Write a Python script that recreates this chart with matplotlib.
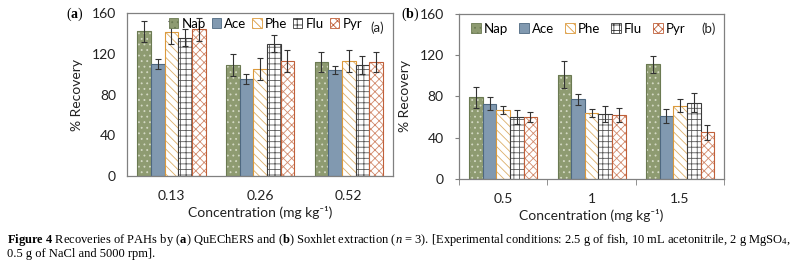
import numpy as np
import matplotlib
matplotlib.use("Agg")
from matplotlib import pyplot as plt
from matplotlib.patches import Patch

plt.rcParams['font.family'] = ['Lato', 'DejaVu Sans']
plt.rcParams['hatch.linewidth'] = 0.6
plt.rcParams['mathtext.fontset'] = 'custom'
plt.rcParams['mathtext.rm'] = 'Liberation Serif'
plt.rcParams['mathtext.it'] = 'Liberation Serif:italic'
plt.rcParams['mathtext.bf'] = 'Liberation Serif:bold'

pahs = ["Nap", "Ace", "Phe", "Flu", "Pyr"]

conc_a = ["0.13", "0.26", "0.52"]
nap_a = [142, 109, 112]
ace_a = [110, 95, 104]
phe_a = [141, 105, 113]
flu_a = [136, 130, 109]
pyr_a = [144, 113, 112]
nap_a_err = [10, 11, 10]
ace_a_err = [5, 5, 4]
phe_a_err = [11, 11, 11]
flu_a_err = [8, 8, 9]
pyr_a_err = [11, 11, 10]

conc_b = ["0.5", "1", "1.5"]
nap_b = [79, 101, 111]
ace_b = [73, 77, 61]
phe_b = [67, 64, 71]
flu_b = [60, 63, 74]
pyr_b = [60, 62, 45]
nap_b_err = [10, 13, 8]
ace_b_err = [6, 5, 7]
phe_b_err = [4, 4, 6]
flu_b_err = [7, 8, 9]
pyr_b_err = [5, 7, 7]

# fill, hatch, hatch colour, outline
styles = [
    ("#8e9b71", "...", "#d4d9c4", "#6b7a52"),
    ("#8199b0", "", "#8199b0", "#4e6880"),
    ("#ffffff", "\\\\\\\\", "#dcae68", "#dc9a3c"),
    ("#ffffff", "+++", "#5a5a5a", "#3a3a3a"),
    ("#ffffff", "xxxx", "#d28a6c", "#c0603a"),
]


def panel(ax, cats, series, errs, ticks):
    x = np.arange(len(cats))
    w = 0.154
    for i, (vals, err) in enumerate(zip(series, errs)):
        fc, hatch, hc, ec = styles[i]
        pos = x + (i - 2) * w
        ax.bar(pos, vals, w, color=fc, edgecolor=hc, hatch=hatch, linewidth=0)
        ax.bar(pos, vals, w, fill=False, edgecolor=ec, linewidth=0.8)
        ax.errorbar(pos, vals, yerr=err, fmt="none", ecolor="#333333",
                    elinewidth=0.8, capsize=2.5, capthick=0.8)
    ax.set_xlim(-0.5, len(cats) - 0.5)
    ax.set_ylim(0, 160)
    ax.set_yticks([0, 40, 80, 120, 160])
    ax.set_xticks(x)
    ax.set_xticklabels(cats)
    ax.tick_params(axis="x", length=0, labelsize=10, pad=10, colors="#222222")
    ax.tick_params(axis="y", length=ticks, labelsize=10, pad=8, colors="#222222",
                   color="#808080")
    for s in ax.spines.values():
        s.set_color("#808080")
        s.set_linewidth(0.9)
    ax.set_xlabel("Concentration (mg kg\u207b\u00b9)", fontsize=10, color="#222222", labelpad=3)
    ax.set_ylabel("% Recovery", fontsize=10, color="#222222", labelpad=6)
    if ticks:
        ax.set_xticks(np.arange(len(cats) + 1) - 0.5, minor=True)
        ax.tick_params(axis="x", which="minor", length=4, color="#808080")


fig = plt.figure(figsize=(7.99, 2.67), dpi=100)
ax1 = fig.add_axes([0.159, 0.341, 0.333, 0.610])
ax2 = fig.add_axes([0.5745, 0.330, 0.332, 0.618])

panel(ax1, conc_a, [nap_a, ace_a, phe_a, flu_a, pyr_a],
      [nap_a_err, ace_a_err, phe_a_err, flu_a_err, pyr_a_err], 0)
panel(ax2, conc_b, [nap_b, ace_b, phe_b, flu_b, pyr_b],
      [nap_b_err, ace_b_err, phe_b_err, flu_b_err, pyr_b_err], 3)

handles = [Patch(facecolor=s[0], edgecolor=s[3], hatch=s[1], linewidth=0.6) for s in styles]
for ax, anchor, tag, tpos, cs in [(ax1, (0.52, 0.935), "(a)", (0.94, 0.91), 0.45),
                                  (ax2, (0.45, 0.91), "(b)", (0.94, 0.91), 0.85)]:
    ax.legend(handles, pahs, loc="center", bbox_to_anchor=anchor, ncol=5, frameon=False,
              fontsize=9.5, handlelength=0.7, handleheight=0.7, handletextpad=0.25,
              columnspacing=cs, borderpad=0)
    ax.text(tpos[0], tpos[1], tag, transform=ax.transAxes, fontsize=9.5,
            ha="center", va="center", color="#222222")

fig.text(0.093, 0.948, r"($\mathbf{a}$)", family="Liberation Serif", fontsize=10, ha="center", va="center")
fig.text(0.513, 0.948, r"($\mathbf{b}$)", family="Liberation Serif", fontsize=10, ha="center", va="center")

cap1 = (r"$\mathbf{Figure\ 4}$ Recoveries of PAHs by ($\mathbf{a}$) QuEChERS and ($\mathbf{b}$) "
        r"Soxhlet extraction ($n$ = 3). [Experimental conditions: 2.5 g of fish, 10 mL acetonitrile, "
        r"2 g MgSO$_4$,")
cap2 = "0.5 g of NaCl and 5000 rpm]."
fig.text(0.009, 0.10, cap1, family="Liberation Serif", fontsize=9, ha="left", va="center")
fig.text(0.009, 0.048, cap2, family="Liberation Serif", fontsize=9, ha="left", va="center")

fig.savefig("out.png", dpi=100)
